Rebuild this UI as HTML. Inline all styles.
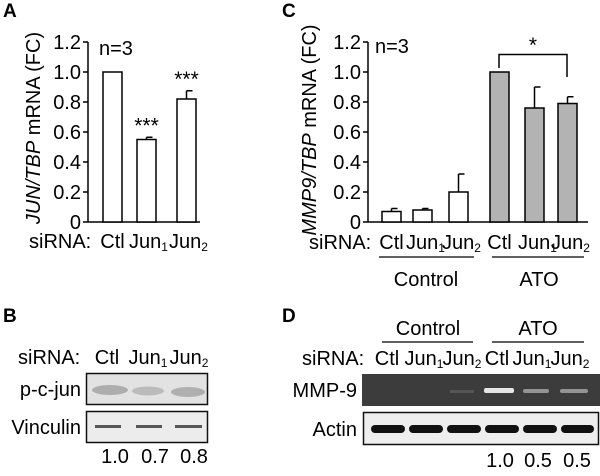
<!DOCTYPE html>
<html><head><meta charset="utf-8"><style>
body{margin:0;background:#fff}
svg{display:block;font-family:"Liberation Sans",Arial,sans-serif}
</style></head><body>
<svg id="fig" width="600" height="476" viewBox="0 0 600 476">
<g id="panelA"></g>
<g id="panelC"></g>
<g id="blots">
 <text x="3" y="17" font-size="19" font-weight="bold">A</text>
 <text x="282" y="17" font-size="19" font-weight="bold">C</text>
 <text x="3" y="322" font-size="19" font-weight="bold">B</text>
 <text x="282" y="322" font-size="19" font-weight="bold">D</text>
 <!-- B -->
 <text x="18" y="364" font-size="20">siRNA:</text>
 <text x="107" y="364" font-size="20" text-anchor="middle">Ctl</text>
 <text x="148" y="364" font-size="20" text-anchor="middle">Jun<tspan font-size="12" dy="3">1</tspan></text>
 <text x="189" y="364" font-size="20" text-anchor="middle">Jun<tspan font-size="12" dy="3">2</tspan></text>
 <text x="81" y="396" font-size="20" text-anchor="end">p-c-jun</text>
 <rect x="86.5" y="373.5" width="121" height="31" fill="#e2e2e2" stroke="#111" stroke-width="1.5"/>
 <ellipse cx="110" cy="390" rx="18" ry="5" fill="#8a8a8a" opacity="0.6"/>
 <ellipse cx="148" cy="391" rx="16" ry="4.5" fill="#9a9a9a" opacity="0.55"/>
 <ellipse cx="188" cy="392" rx="17" ry="5" fill="#8e8e8e" opacity="0.6"/>
 <text x="81" y="434" font-size="20" text-anchor="end">Vinculin</text>
 <rect x="86.5" y="411.5" width="121" height="31" fill="#ececec" stroke="#111" stroke-width="1.5"/>
 <rect x="95" y="425" width="26" height="3" fill="#555"/><rect x="136" y="425" width="26" height="3" fill="#555"/><rect x="175" y="425" width="27" height="3" fill="#555"/>
 <text x="115" y="463" font-size="20" text-anchor="middle">1.0</text>
 <text x="155" y="463" font-size="20" text-anchor="middle">0.7</text>
 <text x="194" y="463" font-size="20" text-anchor="middle">0.8</text>
 <!-- D -->
 <text x="428" y="335" font-size="20" text-anchor="middle">Control</text>
 <line x1="382" y1="342" x2="473" y2="342" stroke="#000" stroke-width="1.3"/>
 <text x="538" y="335" font-size="20" text-anchor="middle">ATO</text>
 <line x1="492" y1="342" x2="584" y2="342" stroke="#000" stroke-width="1.3"/>
 <text x="302" y="365" font-size="20">siRNA:</text>
 <text x="387" y="365" font-size="20" text-anchor="middle">Ctl</text>
 <text x="424" y="365" font-size="20" text-anchor="middle">Jun<tspan font-size="12" dy="3">1</tspan></text>
 <text x="462" y="365" font-size="20" text-anchor="middle">Jun<tspan font-size="12" dy="3">2</tspan></text>
 <text x="497" y="365" font-size="20" text-anchor="middle">Ctl</text>
 <text x="532" y="365" font-size="20" text-anchor="middle">Jun<tspan font-size="12" dy="3">1</tspan></text>
 <text x="570" y="365" font-size="20" text-anchor="middle">Jun<tspan font-size="12" dy="3">2</tspan></text>
 <text x="357" y="397" font-size="20" text-anchor="end">MMP-9</text>
 <rect x="362" y="374" width="238" height="32" fill="#3c3c3c"/>
 <rect x="484" y="388" width="30" height="5" rx="2" fill="#eee" opacity="0.95"/>
 <rect x="523" y="389" width="26" height="4" rx="2" fill="#aaa" opacity="0.8"/>
 <rect x="560" y="389" width="28" height="4" rx="2" fill="#aaa" opacity="0.8"/>
 <rect x="450" y="390" width="24" height="3" fill="#555"/>
 <text x="357" y="436" font-size="20" text-anchor="end">Actin</text>
 <rect x="363.5" y="412.5" width="235" height="32" fill="#eee" stroke="#111" stroke-width="1.5"/>
 <g fill="#111"><rect x="371" y="425" width="34" height="8" rx="4"/><rect x="409" y="425" width="34" height="8" rx="4"/><rect x="447" y="425" width="34" height="8" rx="4"/><rect x="485" y="425" width="34" height="8" rx="4"/><rect x="523" y="425" width="34" height="8" rx="4"/><rect x="561" y="425" width="33" height="8" rx="4"/></g>
 <text x="500" y="467" font-size="20" text-anchor="middle">1.0</text>
 <text x="538" y="467" font-size="20" text-anchor="middle">0.5</text>
 <text x="577" y="467" font-size="20" text-anchor="middle">0.5</text>
</g>
</svg>
<script>
const NS="http://www.w3.org/2000/svg";
const yTicks=[0,0.2,0.4,0.6,0.8,1.0,1.2];
const yTickLabels=["0","0.2","0.4","0.6","0.8","1.0","1.2"];
const aCategories=["Ctl","Jun1","Jun2"];
const aValues=[1.0,0.55,0.82];
const aErrors=[0,0.015,0.055];
const aStars=["","***","***"];
const cCategories=["Ctl","Jun1","Jun2","Ctl","Jun1","Jun2"];
const cValues=[0.07,0.08,0.2,1.0,0.76,0.79];
const cErrors=[0.02,0.01,0.12,0,0.14,0.045];
const cFills=["#fff","#fff","#fff","#b3b3b3","#b3b3b3","#b3b3b3"];

function mk(parent,tag,attrs,text){const e=document.createElementNS(NS,tag);for(const k in attrs)e.setAttribute(k,attrs[k]);if(text!==undefined)e.textContent=text;parent.appendChild(e);return e;}
function yScale(v){return 222-v*150;}
function drawAxis(g,x0,x1,name){
  mk(g,"line",{x1:x0,y1:yScale(0),x2:x0,y2:yScale(1.2),stroke:"#000","stroke-width":1.5});
  mk(g,"line",{x1:x0,y1:yScale(0),x2:x1,y2:yScale(0),stroke:"#000","stroke-width":1.5});
  yTicks.forEach((t,i)=>{
    mk(g,"line",{x1:x0-5,y1:yScale(t),x2:x0,y2:yScale(t),stroke:"#000","stroke-width":1.5});
    const tl=mk(g,"text",{x:x0-7,y:yScale(t)+7,"font-size":20,"text-anchor":"end"},yTickLabels[i]);
    
    
  });
}
function drawBars(g,xs,vals,errs,fills,name){
  vals.forEach((v,i)=>{
    const x=xs[i],w=19,top=yScale(v);
    if(errs[i]>0){
      const et=yScale(v+errs[i]);
      mk(g,"line",{x1:x+w/2,y1:top,x2:x+w/2,y2:et,stroke:"#000","stroke-width":1.5});
      mk(g,"line",{x1:x+w/2,y1:et,x2:x+w/2+6,y2:et,stroke:"#000","stroke-width":1.5});
    }
    const r=mk(g,"rect",{x:x,y:top,width:w,height:yScale(0)-top,fill:fills[i],stroke:"#000","stroke-width":1.5});
    
    
  });
}
function catLabel(g,x,c,y){
  const m=c.match(/^Jun(\d)$/);
  const t=mk(g,"text",{x:x,y:y,"font-size":20,"text-anchor":"middle"});
  if(m){t.appendChild(document.createTextNode("Jun"));mk(t,"tspan",{"font-size":12,dy:3},m[1]);}
  else t.textContent=c;
  
  
}
// Panel A
const A=document.getElementById("panelA");
drawAxis(A,88,200,"a");
const aX=[103,137,177];
drawBars(A,aX,aValues,aErrors,["#fff","#fff","#fff"],"a");
aStars.forEach((s,i)=>{if(s){const t=mk(A,"text",{x:aX[i]+9.5,y:yScale(aValues[i]+aErrors[i])-5,"font-size":21,"text-anchor":"middle"},s);
  
  }});
const an=mk(A,"text",{x:99,y:55,"font-size":20},"n=3");


const at=mk(A,"text",{x:0,y:0,"font-size":20,"text-anchor":"middle",transform:"translate(40,128) rotate(-90)"});
at.innerHTML='<tspan font-style="italic">JUN/TBP</tspan> mRNA (FC)';


const as=mk(A,"text",{x:29,y:248,"font-size":20},"siRNA:");


aCategories.forEach((c,i)=>catLabel(A,aX[i]+9.5+(i?2:0),c,248));
// Panel C
const C=document.getElementById("panelC");
drawAxis(C,368,588,"c");
const cX=[382,413,449,490,525,558];
drawBars(C,cX,cValues,cErrors,cFills,"c");
const cn=mk(C,"text",{x:375,y:53,"font-size":20},"n=3");


const ct=mk(C,"text",{x:0,y:0,"font-size":20,"text-anchor":"middle",transform:"translate(316,130) rotate(-90)"});
ct.innerHTML='<tspan font-style="italic">MMP9/TBP</tspan> mRNA (FC)';


const br=mk(C,"path",{d:"M499 68 V54.5 H567 V77",fill:"none",stroke:"#000","stroke-width":1.5});


const st=mk(C,"text",{x:533,y:52,"font-size":21,"text-anchor":"middle"},"*");


const cs=mk(C,"text",{x:309,y:249,"font-size":20},"siRNA:");


cCategories.forEach((c,i)=>catLabel(C,cX[i]+9.5+(i%3?3:0),c,249));
mk(C,"line",{x1:379,y1:257,x2:474,y2:257,stroke:"#000","stroke-width":1.3});
mk(C,"line",{x1:492,y1:257,x2:584,y2:257,stroke:"#000","stroke-width":1.3});
const g1=mk(C,"text",{x:426,y:286,"font-size":20,"text-anchor":"middle"},"Control");


const g2=mk(C,"text",{x:539,y:286,"font-size":20,"text-anchor":"middle"},"ATO");


</script>
</body></html>
